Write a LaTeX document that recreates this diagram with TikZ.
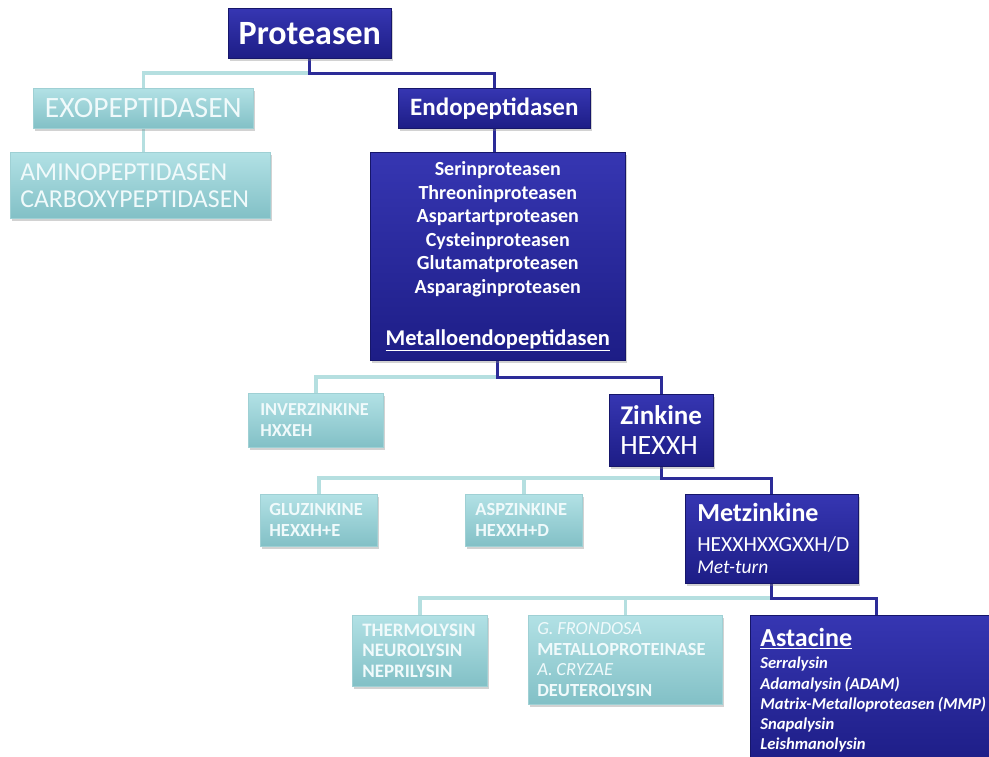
\documentclass[tikz,border=0pt]{standalone}
\usepackage{fontspec}
\setmainfont{Carlito}
\usetikzlibrary{shadows,backgrounds}
\definecolor{dktop}{HTML}{3636B2}
\definecolor{dkbot}{HTML}{1D1D86}
\definecolor{dkedge}{HTML}{16166A}
\definecolor{lttop}{HTML}{B2E1E5}
\definecolor{ltbot}{HTML}{82C0C6}
\definecolor{ltedge}{HTML}{9FD0D4}
\definecolor{lttext}{HTML}{F0FAFB}
\definecolor{ltline}{HTML}{B5DFE0}
\definecolor{dkline}{HTML}{2C2C98}
\newcommand\fs[2]{\fontsize{#1}{#2}\selectfont}
\frenchspacing
\begin{document}
\begin{tikzpicture}[x=1pt,y=-1pt,
  box/.style={anchor=north west, inner sep=0pt,
    drop shadow={opacity=0.35, shadow xshift=1.5pt, shadow yshift=-2.5pt}},
  dk/.style={box, draw=dkedge, line width=0.6pt, top color=dktop, bottom color=dkbot, text=white},
  lt/.style={box, draw=ltedge, line width=0.6pt, top color=lttop, bottom color=ltbot, text=lttext},
  ltl/.style={draw=ltline, line width=3.5pt},
  dkl/.style={draw=dkline, line width=3pt}]
\clip (0,0) rectangle (989,756);

\node[dk, minimum width=163pt, minimum height=50pt, font=\fs{34}{40}\bfseries] (prot) at (228,8) {Proteasen};
\node[lt, minimum width=220pt, minimum height=40pt, font=\fs{29.5}{32}] (exo) at (33,88) {EXOPEPTIDASEN};
\node[dk, minimum width=192pt, minimum height=40pt, font=\fs{25}{30}\bfseries] (endo) at (398,88) {Endopeptidasen};
\node[lt, minimum width=257pt, minimum height=66pt, text width=240pt, inner xsep=10pt, align=left, font=\fs{25.8}{27}] (amino) at (10,152) {AMINOPEPTIDASEN\\CARBOXYPEPTIDASEN};
\node[dk, minimum width=255pt, minimum height=208pt, text width=245pt, align=center, font=\fs{20}{23.5}\bfseries] (endolist) at (370,152) {Serinproteasen\\Threoninproteasen\\Aspartartproteasen\\Cysteinproteasen\\Glutamatproteasen\\Asparaginproteasen\\[29pt]{\fs{22.5}{24}\underline{Metalloendopeptidasen}}};

\node[lt, minimum width=135pt, minimum height=54pt, text width=111pt, inner xsep=12pt, align=left, font=\fs{18.3}{21}\bfseries] (inver) at (248,393) {INVERZINKINE\\HXXEH};
\node[dk, minimum width=104pt, minimum height=72pt, text width=82pt, inner xsep=11pt, align=left, font=\fs{28}{30}] (zink) at (609,394) {{\fs{27}{30}\bfseries Zinkine}\\HEXXH};

\node[lt, minimum width=117pt, minimum height=52pt, text width=99pt, inner xsep=9pt, align=left, font=\fs{18.5}{21}\bfseries] (gluz) at (260,494) {GLUZINKINE\\HEXXH+E};
\node[lt, minimum width=117pt, minimum height=52pt, text width=97pt, inner xsep=10pt, align=left, font=\fs{18.5}{21}\bfseries] (aspz) at (465,494) {ASPZINKINE\\HEXXH+D};
\node[dk, minimum width=173pt, minimum height=89pt, text width=149pt, inner xsep=12pt, align=left, font=\fs{21.5}{22}] (metz) at (685,494) {{\fs{26}{30}\bfseries Metzinkine}\\[8pt]HEXXHXXGXXH/D\\{\fs{19.5}{22}\itshape Met-turn}};

\node[lt, minimum width=135pt, minimum height=71pt, text width=115pt, inner xsep=10pt, align=left, font=\fs{19}{20.5}\bfseries] (therm) at (352,615) {THERMOLYSIN\\NEUROLYSIN\\NEPRILYSIN};
\node[lt, minimum width=194pt, minimum height=89pt, text width=176pt, inner xsep=9pt, align=left, font=\fs{18.5}{20.5}\bfseries] (gfron) at (528,615) {{\mdseries\itshape G.\hspace{0.2em}FRONDOSA}\\METALLOPROTEINASE\\{\mdseries\itshape A.\hspace{0.2em}CRYZAE}\\DEUTEROLYSIN};
\node[dk, minimum width=252pt, minimum height=150pt, text width=260pt, inner xsep=10pt, align=left, font=\fs{16.6}{20.2}\bfseries\itshape] (astac) at (750,615) {{\fs{26}{28}\upshape\underline{Astacine}}\\[2pt]Serralysin\\Adamalysin\hspace{0.2em}(ADAM)\\Matrix-Metalloproteasen\hspace{0.2em}(MMP)\\Snapalysin\\Leishmanolysin};

\coordinate (y1) at (0,73);
\coordinate (y2) at (0,377);
\coordinate (y3) at (0,478);
\coordinate (y4) at (0,598);
\begin{pgfonlayer}{background}
\fill[white] (0,0) rectangle (989,756);
\draw[ltl] (prot.south |- y1) -| (exo.north);
\draw[dkl] (prot.south) -- (prot.south |- y1) -| (endo.north);
\draw[ltl] (exo.south) -- (exo.south |- amino.north);
\draw[dkl] (endo.south) -- (endo.south |- endolist.north);
\draw[ltl] (endolist.south |- y2) -| (inver.north);
\draw[dkl] (endolist.south) -- (endolist.south |- y2) -| (zink.north);
\draw[ltl] (zink.south |- y3) -| (gluz.north);
\draw[ltl] (aspz.north) -- (aspz.north |- y3);
\draw[dkl] (zink.south) -- (zink.south |- y3) -| (metz.north);
\draw[ltl] (metz.south |- y4) -| (therm.north);
\draw[ltl] (gfron.north) -- (gfron.north |- y4);
\coordinate (ast) at (876,615);
\draw[dkl] (metz.south) -- (metz.south |- y4) -| (ast);
\end{pgfonlayer}
\end{tikzpicture}
\end{document}
